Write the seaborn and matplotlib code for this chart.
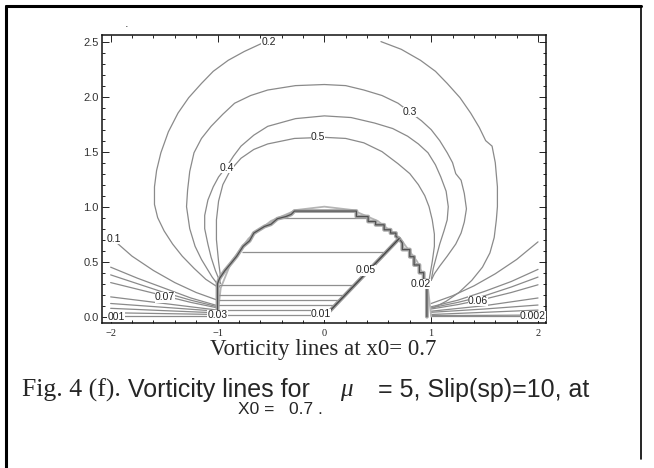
import numpy as np
import pandas as pd
import seaborn as sns
import matplotlib.pyplot as plt
from matplotlib.lines import Line2D

# ---- contour lines (plot units) ----
c02a_x = [-1.00, -1.11, -1.22, -1.33, -1.42, -1.50, -1.56, -1.59, -1.59, -1.57, -1.53, -1.46,
          -1.37, -1.27, -1.15, -1.04, -0.90, -0.75, -0.55]
c02a_y = [0.27, 0.34, 0.44, 0.55, 0.66, 0.78, 0.90, 1.02, 1.18, 1.33, 1.49, 1.68,
          1.85, 1.99, 2.12, 2.23, 2.33, 2.41, 2.50]
c02b_x = [0.53, 0.72, 0.90, 1.04, 1.15, 1.27, 1.37, 1.45, 1.51, 1.57, 1.60, 1.62, 1.62,
          1.61, 1.59, 1.55, 1.48, 1.38, 1.26, 1.14, 1.02]
c02b_y = [2.50, 2.43, 2.33, 2.23, 2.12, 1.99, 1.85, 1.72, 1.60, 1.55, 1.40, 1.18, 1.00,
          0.88, 0.72, 0.58, 0.45, 0.33, 0.22, 0.14, 0.08]

c03_x = [-0.98, -1.05, -1.15, -1.21, -1.26, -1.29, -1.28, -1.26, -1.22, -1.15, -1.06, -0.95,
         -0.84, -0.69, -0.53, -0.27, 0.00, 0.20, 0.37, 0.54, 0.69, 0.80, 0.91, 1.00, 1.08,
         1.15, 1.20, 1.23, 1.28, 1.31, 1.33, 1.31, 1.28, 1.23, 1.15, 1.08, 1.03, 1.00]
c03_y = [0.27, 0.36, 0.52, 0.64, 0.80, 1.00, 1.15, 1.32, 1.49, 1.62, 1.73, 1.84,
         1.94, 2.01, 2.06, 2.10, 2.11, 2.10, 2.06, 2.01, 1.94, 1.86, 1.78, 1.70, 1.60,
         1.49, 1.40, 1.30, 1.24, 1.12, 0.98, 0.86, 0.76, 0.66, 0.55, 0.46, 0.39, 0.33]

c04_x = [-0.97, -1.02, -1.06, -1.09, -1.12, -1.12, -1.09, -1.04, -0.99, -0.91, -0.85, -0.78,
         -0.66, -0.53, -0.27, 0.00, 0.25, 0.47, 0.64, 0.78, 0.88, 0.97, 1.04, 1.09, 1.14,
         1.16, 1.15, 1.12, 1.08, 1.05, 1.02, 1.00]
c04_y = [0.30, 0.42, 0.54, 0.66, 0.80, 0.92, 1.06, 1.18, 1.27, 1.37, 1.46, 1.55,
         1.65, 1.73, 1.80, 1.825, 1.81, 1.76, 1.71, 1.64, 1.57, 1.49, 1.38, 1.27, 1.14,
         1.00, 0.88, 0.78, 0.66, 0.55, 0.44, 0.33]

c05_x = [-0.97, -0.99, -1.01, -1.01, -0.99, -0.95, -0.88, -0.78, -0.66, -0.53, -0.28, 0.00,
         0.20, 0.37, 0.54, 0.69, 0.80, 0.88, 0.94, 0.98, 1.01, 1.03, 1.03, 1.01, 0.98]
c05_y = [0.35, 0.50, 0.70, 0.88, 1.05, 1.20, 1.33, 1.44, 1.52, 1.57, 1.62, 1.63,
         1.62, 1.58, 1.50, 1.39, 1.30, 1.20, 1.10, 1.00, 0.88, 0.75, 0.64, 0.50, 0.33]

# fan of lines left of the body
fl1_x = [-2.0, -1.8, -1.6, -1.4, -1.2, -1.0]
fl1_y = [0.72, 0.55, 0.42, 0.31, 0.22, 0.15]
fl_x = [-2.0, -1.75, -1.5, -1.25, -1.0]
fl2_y = [0.45, 0.35, 0.26, 0.17, 0.10]
fl3_y = [0.38, 0.30, 0.22, 0.15, 0.09]
fl4_y = [0.31, 0.25, 0.19, 0.13, 0.08]
fls_x = [-2.0, -1.5, -1.0]
fl5_y = [0.18, 0.12, 0.06]
fl6_y = [0.12, 0.085, 0.05]
fl7_y = [0.076, 0.055, 0.035]
fl8_y = [0.036, 0.028, 0.02]
fl9_y = [0.005, 0.005, 0.005]

# fan of lines right of the body
fr1_x = [1.0, 1.2, 1.4, 1.6, 1.8, 2.0]
fr1_y = [0.12, 0.19, 0.28, 0.39, 0.52, 0.68]
fr_x = [1.0, 1.25, 1.5, 1.75, 2.0]
fr2_y = [0.09, 0.15, 0.23, 0.32, 0.43]
fr3_y = [0.08, 0.13, 0.19, 0.27, 0.36]
fr4_y = [0.07, 0.11, 0.16, 0.22, 0.29]
frs_x = [1.0, 1.5, 2.0]
fr5_y = [0.05, 0.10, 0.17]
fr6_y = [0.04, 0.07, 0.106]
fr7_y = [0.02, 0.04, 0.06]
fr8_y = [0.01, 0.012, 0.015]
fr9_y = [0.003, 0.003, 0.003]

# body: smooth circle, stepped wall, diagonal and the flat lines inside
circle_x = [-1.00, -0.97, -0.87, -0.71, -0.50, -0.26, 0.00, 0.26, 0.50, 0.71, 0.87, 0.97, 1.00]
circle_y = [0.00, 0.26, 0.50, 0.71, 0.87, 0.97, 1.00, 0.97, 0.87, 0.71, 0.50, 0.26, 0.00]

wall_x = [-1.00, -1.00, -0.98, -0.93, -0.87, -0.82, -0.76, -0.70, -0.66, -0.56, -0.50, -0.44,
          -0.36, -0.31, -0.28, 0.30, 0.30, 0.41, 0.41, 0.48, 0.48, 0.56, 0.56, 0.62, 0.62,
          0.67, 0.67, 0.70, 0.73, 0.73, 0.80, 0.80, 0.84, 0.84, 0.89, 0.89, 0.93, 0.93,
          0.96, 0.96]
wall_y = [0.00, 0.30, 0.35, 0.42, 0.49, 0.55, 0.64, 0.69, 0.76, 0.82, 0.84, 0.89,
          0.91, 0.93, 0.96, 0.96, 0.91, 0.91, 0.865, 0.865, 0.835, 0.835, 0.79, 0.79, 0.76,
          0.76, 0.73, 0.71, 0.67, 0.61, 0.61, 0.545, 0.545, 0.47, 0.47, 0.40, 0.40, 0.33,
          0.33, 0.00]

diag_x = [0.00, 0.70]
diag_y = [0.00, 0.71]

flat_y = [0.90, 0.59, 0.288, 0.197, 0.152, 0.106, 0.061, 0.015]
flat_x0 = [-0.44, -0.77, -0.99, -1.00, -1.00, -1.00, -1.00, -1.00]
flat_x1 = [0.40, 0.58, 0.28, 0.19, 0.15, 0.10, 0.06, 0.015]

# contour labels
lab_text = ["0.2", "0.3", "0.4", "0.5", "0.1", "0.07", "001", "0.03", "0.01",
            "0.05", "0.02", "0.06", "0.002"]
lab_x = [-0.52, 0.80, -0.91, -0.06, -1.97, -1.49, -1.95, -1.00, -0.03, 0.39, 0.905, 1.44, 1.95]
lab_y = [2.50, 1.86, 1.35, 1.63, 0.71, 0.175, 0.0, 0.015, 0.02, 0.42, 0.30, 0.14, 0.008]

curves = [
    (c02a_x, c02a_y), (c02b_x, c02b_y), (c03_x, c03_y), (c04_x, c04_y), (c05_x, c05_y),
    (fl1_x, fl1_y), (fl_x, fl2_y), (fl_x, fl3_y), (fl_x, fl4_y),
    (fls_x, fl5_y), (fls_x, fl6_y), (fls_x, fl7_y), (fls_x, fl8_y), (fls_x, fl9_y),
    (fr1_x, fr1_y), (fr_x, fr2_y), (fr_x, fr3_y), (fr_x, fr4_y),
    (frs_x, fr5_y), (frs_x, fr6_y), (frs_x, fr7_y), (frs_x, fr8_y), (frs_x, fr9_y),
]
df = pd.concat([pd.DataFrame({"x": cx, "y": cy, "curve": i}) for i, (cx, cy) in enumerate(curves)],
               ignore_index=True)

sns.set_style("white")
fig = plt.figure(figsize=(6.54, 4.68), dpi=100)
ax = fig.add_axes([0.1555, 0.3092, 0.6794, 0.6160])

sns.lineplot(data=df, x="x", y="y", units="curve", estimator=None, sort=False,
             color="#8a8a8a", lw=0.9, ax=ax, legend=False)

# body
ax.plot(circle_x, circle_y, color="#b5b5b5", lw=1.3)
ax.hlines(flat_y, flat_x0, flat_x1, colors="#8f8f8f", lw=0.9)
ax.plot(wall_x, wall_y, color="#a8a8a8", lw=2.8)
ax.plot(wall_x, wall_y, color="#505050", lw=0.9)
ax.plot(diag_x, diag_y, color="#9a9a9a", lw=2.8, zorder=3)
ax.plot(diag_x, diag_y, color="#454545", lw=0.9, zorder=3)

for t, lx, ly in zip(lab_text, lab_x, lab_y):
    ax.text(lx, ly, t, fontsize=7.5, family="Liberation Sans", color="#222222",
            ha="center", va="center", zorder=4,
            bbox=dict(fc="white", ec="none", pad=0.1))

ax.set_xlim(-2.084, 2.075)
ax.set_ylim(-0.06, 2.56)
ax.set_xlabel("")
ax.set_ylabel("")
ax.set_xticks([-2, -1, 0, 1, 2])
ax.set_xticklabels(["\u22122", "\u22121", "0", "1", "2"], family="Liberation Serif", fontsize=7.5)
ax.set_yticks([0.0, 0.5, 1.0, 1.5, 2.0, 2.5])
ax.set_yticklabels(["0.0", "0.5", "1.0", "1.5", "2.0", "2.5"], family="Liberation Sans", fontsize=8,
                   color="#333333")
ax.set_xticks(np.arange(-2.0, 2.01, 0.2), minor=True)
ax.set_yticks(np.arange(0.0, 2.51, 0.1), minor=True)
ax.tick_params(which="both", direction="in", top=True, right=True, bottom=True, left=True,
               color="#222222", width=0.7)
ax.tick_params(which="major", length=5, pad=2)
ax.tick_params(which="minor", length=2.5)
ax.tick_params(axis="x", which="major", pad=4)
for s in ax.spines.values():
    s.set_color("#111111")
    s.set_linewidth(1.1)

# page frame
fig.add_artist(Line2D([6 / 654, 6 / 654], [0, 1 - 6 / 468], transform=fig.transFigure,
                      color="black", lw=2.2))
fig.add_artist(Line2D([6 / 654, 641 / 654], [1 - 6 / 468, 1 - 6 / 468], transform=fig.transFigure,
                      color="black", lw=2.2))
fig.add_artist(Line2D([641 / 654, 641 / 654], [1 - 6 / 468, 0.02], transform=fig.transFigure,
                      color="black", lw=1.2))

fig.text(127 / 654, 1 - 24 / 468, ".", fontsize=8, ha="center", va="center")

fig.text(323 / 654, 1 - 350 / 468, "Vorticity lines at x0= 0.7", family="Liberation Serif",
         fontsize=16.5, ha="center", va="center")

y1 = 1 - 390 / 468
fig.text(22 / 654, y1, "Fig. 4 (f).", family="Liberation Serif", fontsize=18.5, va="center")
fig.text(128 / 654, y1, "Vorticity lines for", family="Liberation Sans", fontsize=18, va="center")
fig.text(340 / 654, y1, "\u03bc", family="Liberation Serif", style="italic", fontsize=18, va="center")
fig.text(378 / 654, y1, "= 5, Slip(sp)=10, at", family="Liberation Sans", fontsize=18, va="center")
fig.text(238 / 654, 1 - 409 / 468, "X0 =   0.7 .", family="Liberation Sans", fontsize=12.5,
         va="center")

fig.savefig("out.png", dpi=100)
